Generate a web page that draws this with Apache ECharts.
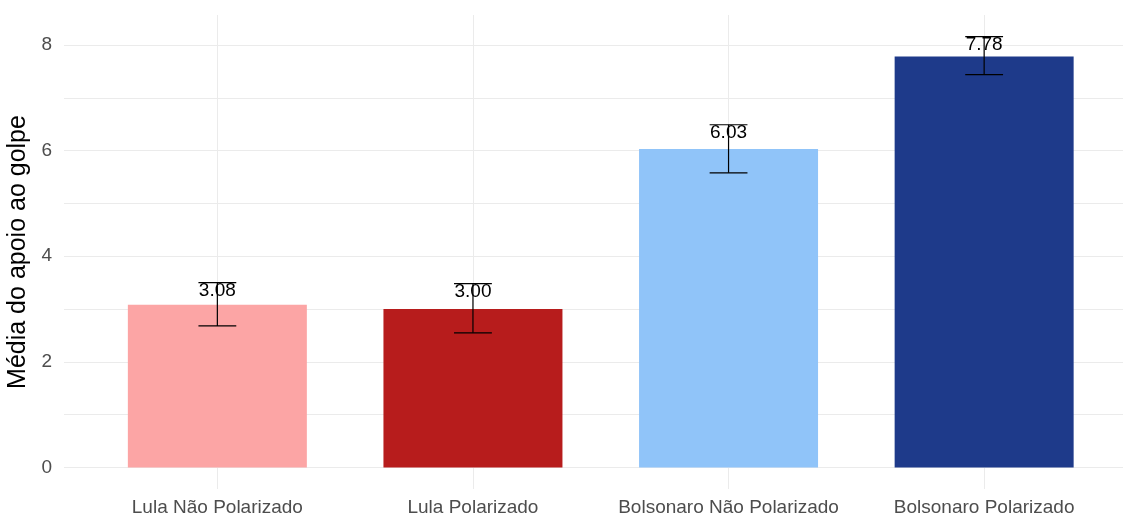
<!DOCTYPE html>
<html>
<head>
<meta charset="utf-8">
<script src="https://cdn.jsdelivr.net/npm/echarts@6/dist/echarts.min.js"></script>
<style>
  html, body { margin: 0; padding: 0; background: #fff; }
  #chart { width: 1123px; height: 519px; }
</style>
</head>
<body>
<div id="chart"></div>
<script>
// dados
const categorias = ['Lula Não Polarizado', 'Lula Polarizado', 'Bolsonaro Não Polarizado', 'Bolsonaro Polarizado']
const medias = [3.08, 3.00, 6.03, 7.78]
const limInferior = [2.68, 2.55, 5.58, 7.44]
const limSuperior = [3.50, 3.48, 6.49, 8.16]
const cores = ['#FCA5A5', '#B71C1C', '#90C4F9', '#1E3A8A']
const ticksY = [0, 2, 4, 6, 8]
const linhasY = [0, 1, 2, 3, 4, 5, 6, 7, 8]
const posX = [1, 2, 3, 4]

const fonte = 'Liberation Sans, Arial, sans-serif'
const chart = echarts.init(document.getElementById('chart'))

// barras
const dadosBarras = medias.map((v, i) => ({
    value: [posX[i], v],
    itemStyle: { color: cores[i] }
}))

// barras de erro
const dadosErro = medias.map((v, i) => [posX[i], limInferior[i], limSuperior[i], v])

function desenhaErro(params, api) {
    const x = api.value(0)
    const lo = api.value(1)
    const hi = api.value(2)
    const m = api.value(3)
    const meia = 0.074
    const topo = api.coord([x, hi])
    const base = api.coord([x, lo])
    const tE = api.coord([x - meia, hi])
    const tD = api.coord([x + meia, hi])
    const bE = api.coord([x - meia, lo])
    const bD = api.coord([x + meia, lo])
    const estilo = { stroke: '#000', lineWidth: 1.2 }
    return {
        type: 'group',
        children: [
            { type: 'text', x: topo[0], y: topo[1] + 8,
              style: { text: m.toFixed(2), fill: '#000', font: '19px ' + fonte, align: 'center', verticalAlign: 'middle' } },
            { type: 'line', shape: { x1: topo[0], y1: topo[1], x2: base[0], y2: base[1] }, style: estilo },
            { type: 'line', shape: { x1: tE[0], y1: tE[1], x2: tD[0], y2: tD[1] }, style: estilo },
            { type: 'line', shape: { x1: bE[0], y1: bE[1], x2: bD[0], y2: bD[1] }, style: estilo }
        ]
    }
}

const option = {
    animation: false,
    backgroundColor: '#fff',
    grid: { left: 64, right: -14.5, top: 15, bottom: 30, outerBoundsMode: 'none' },
    xAxis: {
        type: 'value',
        min: 0.4,
        max: 4.6,
        axisLine: { show: false },
        axisTick: { show: false, customValues: posX },
        axisLabel: {
            customValues: posX,
            formatter: v => categorias[Math.round(v) - 1],
            color: '#4D4D4D',
            fontSize: 19,
            fontFamily: fonte,
            margin: 9
        },
        splitLine: { show: true, lineStyle: { color: '#EBEBEB', width: 1 } }
    },
    yAxis: {
        type: 'value',
        min: -0.408,
        max: 8.568,
        name: 'Média do apoio ao golpe',
        nameLocation: 'middle',
        nameGap: 23,
        nameTextStyle: { color: '#000', fontSize: 25, fontFamily: fonte },
        axisLine: { show: false },
        axisTick: { show: false, customValues: linhasY },
        axisLabel: {
            customValues: ticksY,
            color: '#4D4D4D',
            fontSize: 19,
            fontFamily: fonte,
            margin: 12
        },
        splitLine: { show: true, lineStyle: { color: '#EBEBEB', width: 1 } }
    },
    series: [
        {
            type: 'bar',
            data: dadosBarras,
            barWidth: 179
        },
        {
            type: 'custom',
            renderItem: desenhaErro,
            data: dadosErro,
            encode: { x: 0, y: [1, 2] },
            clip: false,
            z: 5
        }
    ]
}

chart.setOption(option)
</script>
</body>
</html>
